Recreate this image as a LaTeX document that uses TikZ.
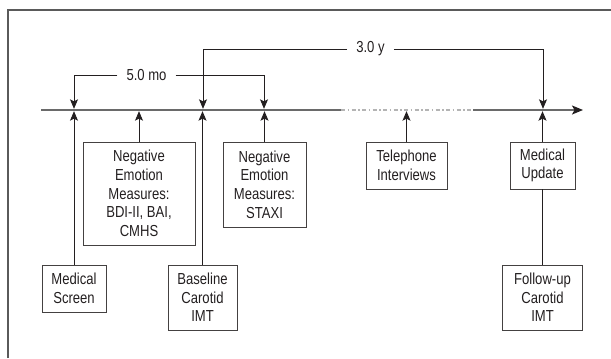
\documentclass[tikz,border=0pt]{standalone}
\usepackage{fontspec}
\setmainfont{Liberation Sans}[FakeStretch=0.82]
\usetikzlibrary{arrows.meta}
\definecolor{ink}{HTML}{231F20}
\definecolor{framec}{HTML}{5A5A5A}
\definecolor{tlc}{HTML}{6A6A6A}
\definecolor{dashc}{HTML}{B4B4B4}
\tikzset{
  box/.style={draw=ink!85, line width=0.9bp, rectangle, inner sep=0pt, align=center,
    text=ink, font=\fontsize{16}{18.7}\selectfont},
  lbl/.style={inner xsep=9bp, inner ysep=0pt, text=ink, font=\fontsize{16}{17}\selectfont},
  conn/.style={draw=ink, line width=0.9bp},
  arr/.style={conn, -{Stealth[length=9.5bp,width=8bp,inset=2bp]}},
}
\begin{document}
\begin{tikzpicture}[x=1bp,y=-1bp]
\useasboundingbox (0,0) rectangle (611,358);
% frame (open on right and bottom)
\draw[framec, line width=1.5bp] (8,358) -- (8,10) -- (611,10);

% timeline
\coordinate (tlS) at (41,110);
\coordinate (d1) at (341,110);
\coordinate (d2) at (473,110);
\coordinate (tlE) at (583,110);
\draw[tlc, line width=1.6bp] (tlS) -- (d1);
\draw[dashc, line width=1.6bp, dash pattern=on 4bp off 2.5bp on 1.5bp off 2.5bp] (d1) -- (d2);
\draw[tlc, line width=1.6bp, -{Stealth[length=11bp,width=9bp,inset=2.5bp,color=ink]}] (d2) -- (tlE);

% boxes
\node[box, minimum width=64bp, minimum height=47bp] (ms) at (74,288.5) {Medical\\Screen};
\node[box, minimum width=112bp, minimum height=103bp] (ne1) at (139,193.5) {Negative\\Emotion\\Measures:\\BDI-II, BAI,\\CMHS};
\node[box, minimum width=69bp, minimum height=65bp] (bl) at (202.5,297.5) {Baseline\\Carotid\\IMT};
\node[box, minimum width=83bp, minimum height=85bp] (ne2) at (264.5,184.5) {Negative\\Emotion\\Measures:\\STAXI};
\node[box, minimum width=81bp, minimum height=47bp] (tel) at (406.5,165.5) {Telephone\\Interviews};
\node[box, minimum width=65bp, minimum height=47bp] (mu) at (542.5,165.5) {Medical\\Update};
\node[box, minimum width=80bp, minimum height=65bp] (fu) at (542.5,297.5) {Follow-up\\Carotid\\IMT};

% up arrows from boxes to timeline
\foreach \n in {ms,ne1,bl,ne2,tel,mu}
  \draw[arr, shorten >=1.2bp] (\n.north) -- (\n.north |- tlS);
\draw[conn] (fu.north) -- (mu.south);

% 5.0 mo bracket
\node[lbl] (l5) at (146.5,75) {5.0 mo};
\coordinate (b5L) at (74,75);
\coordinate (b5R) at (264,75);
\draw[arr, shorten >=1.2bp] (l5.west) -- (b5L) -- (b5L |- tlS);
\draw[arr, shorten >=1.2bp] (l5.east) -- (b5R) -- (b5R |- tlS);

% 3.0 y bracket
\node[lbl] (l3) at (370.5,49) {3.0 y};
\coordinate (b3L) at (203,49);
\coordinate (b3R) at (543,49);
\draw[arr, shorten >=1.2bp] (l3.west) -- (b3L) -- (b3L |- tlS);
\draw[arr, shorten >=1.2bp] (l3.east) -- (b3R) -- (b3R |- tlS);
\end{tikzpicture}
\end{document}
